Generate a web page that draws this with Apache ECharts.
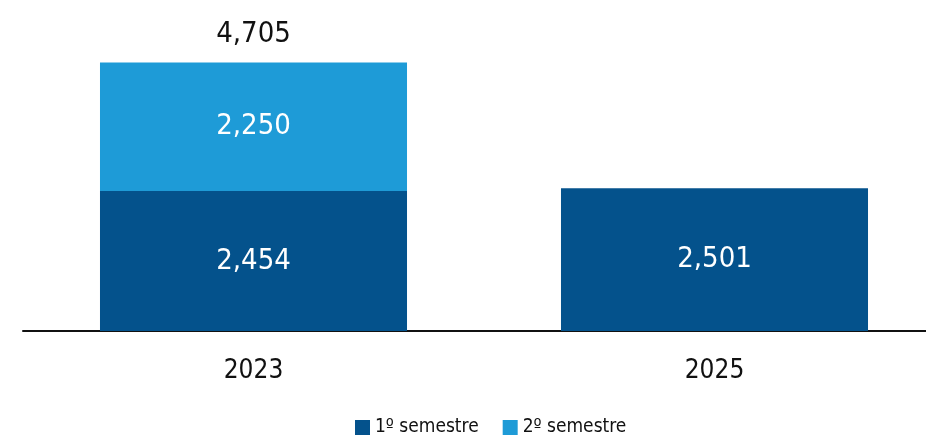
<!DOCTYPE html>
<html>
<head>
<meta charset="utf-8">
<script src="https://cdn.jsdelivr.net/npm/echarts@6/dist/echarts.min.js"></script>
<style>
  html, body { margin: 0; padding: 0; background: #fff; }
  #main { width: 926px; height: 440px; }
</style>
</head>
<body>
<div id="main"></div>
<script>
// datos
var years = ['2023', '2025'];
var sem1 = [2454, 2501];
var sem2 = [2250, null];
var totals = [4705, null]; // total tal como aparece en el gráfico
var seriesNames = ['1º semestre', '2º semestre'];

var font = '"DejaVu Sans Condensed", sans-serif';

function fmt(v) {
  return Number(v).toLocaleString('en-US');
}

var chart = echarts.init(document.getElementById('main'), null, { renderer: 'canvas' });

var option = {
  animation: false,
  grid: {
    left: 23,
    width: 922,
    top: 45.7,
    bottom: 109,
    containLabel: false,
    outerBoundsMode: 'none'
  },
  legend: {
    data: seriesNames,
    top: 418,
    left: 355,
    itemWidth: 15,
    itemHeight: 15,
    itemGap: 24,
    icon: 'rect',
    padding: 0,
    textStyle: {
      fontFamily: font,
      fontSize: 19,
      color: '#111'
    }
  },
  xAxis: {
    type: 'category',
    data: years,
    axisLine: { lineStyle: { color: '#111', width: 2 } },
    axisTick: { show: false },
    axisLabel: {
      margin: 27,
      fontFamily: font,
      fontSize: 26,
      color: '#111'
    }
  },
  yAxis: {
    type: 'value',
    min: 0,
    max: 5000,
    show: false,
    splitLine: { show: false }
  },
  series: [
    {
      name: seriesNames[0],
      type: 'bar',
      stack: 'total',
      barWidth: '66.6%',
      data: sem1,
      itemStyle: { color: '#04528C' },
      label: {
        show: true,
        position: 'inside',
        formatter: function (p) { return fmt(p.value); },
        fontFamily: font,
        fontSize: 29,
        color: '#fff'
      }
    },
    {
      name: seriesNames[1],
      type: 'bar',
      stack: 'total',
      barWidth: '66.6%',
      data: sem2,
      itemStyle: { color: '#1E9BD7' },
      label: {
        show: true,
        position: 'inside',
        formatter: function (p) { return fmt(p.value); },
        fontFamily: font,
        fontSize: 29,
        color: '#fff'
      }
    },
    {
      // etiqueta del total
      name: 'total',
      type: 'bar',
      barWidth: '66.6%',
      barGap: '-100%',
      data: totals,
      silent: true,
      itemStyle: { color: 'rgba(0,0,0,0)' },
      label: {
        show: true,
        position: 'top',
        distance: 14,
        formatter: function (p) { return fmt(p.value); },
        fontFamily: font,
        fontSize: 29,
        color: '#111'
      }
    }
  ]
};

chart.setOption(option);
</script>
</body>
</html>
